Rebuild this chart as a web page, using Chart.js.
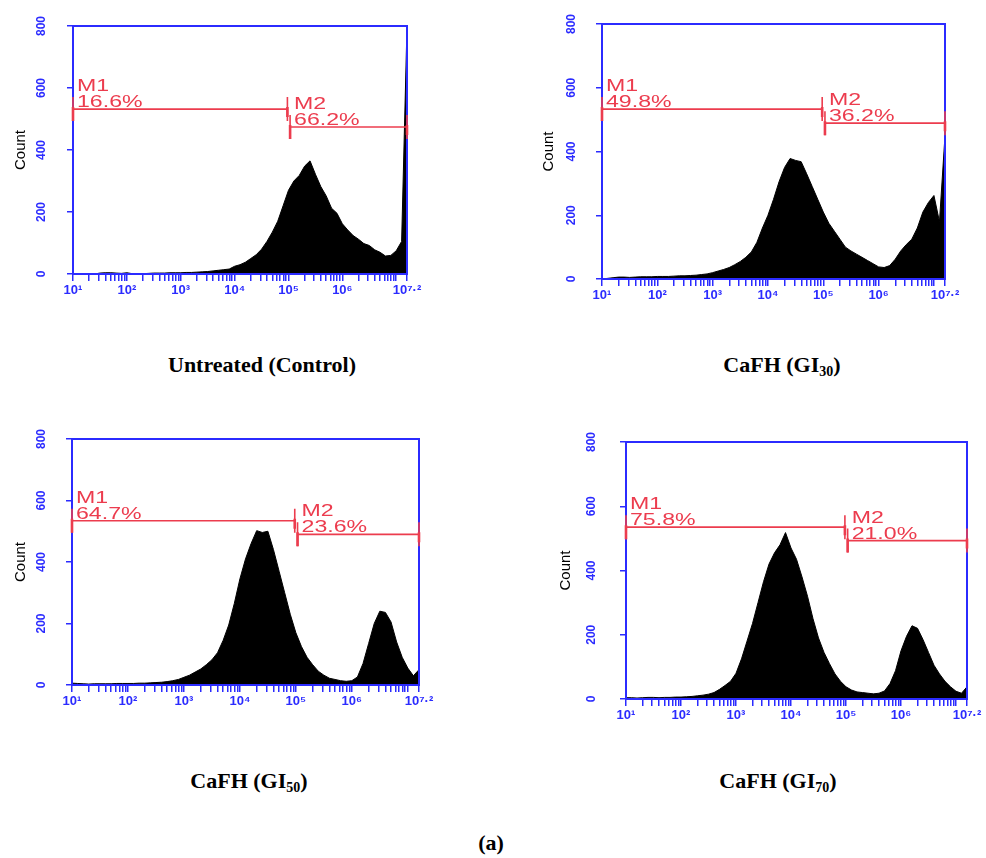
<!DOCTYPE html>
<html><head><meta charset="utf-8">
<script src="https://cdn.jsdelivr.net/npm/chart.js@4.4.1/dist/chart.umd.min.js"></script>
<style>
html,body{margin:0;padding:0;background:#fff;width:986px;height:858px;overflow:hidden;}
canvas{position:absolute;}
.cap{position:absolute;font:bold 22px "Liberation Serif","Times New Roman",serif;line-height:26px;color:#000;white-space:nowrap;transform:translateX(-50%);}
.cap sub{font-size:14px;vertical-align:-4px;line-height:0;}
</style></head><body>
<div class="cap" style="left:262px;top:352px;">Untreated (Control)</div>
<div class="cap" style="left:782px;top:352px;">CaFH (GI<sub>30</sub>)</div>
<div class="cap" style="left:249px;top:768px;">CaFH (GI<sub>50</sub>)</div>
<div class="cap" style="left:778px;top:768px;">CaFH (GI<sub>70</sub>)</div>
<div class="cap" style="left:491px;top:830px;">(a)</div>
<script>
// ---------- data ----------
// log10 fluorescence channel (bin centres), 10^1 .. 10^7.2
const binStart = 1.0, binStep = 0.1, binCount = 63;
const logBins = Array.from({length: binCount}, (_, i) => +(binStart + i * binStep).toFixed(1));

const countUntreated = [0,0,0,0,0,3,4,4,3,2, 4,1,0,1,2,3,3,3,4,4, 4,5,5,6,7,8,10,12,14,16,
  25,30,38,50,62,80,105,135,170,220, 270,300,318,348,365,322,282,252,212,196,
  162,142,124,112,98,92,78,70,58,60, 75,105,800];
const countGI30 = [0,2,4,6,6,5,6,7,7,7, 8,8,8,9,10,10,11,12,14,16, 20,25,30,36,45,55,68,85,115,160,
  200,250,305,350,378,372,368,330,290,250, 210,175,150,125,100,88,78,68,58,48,
  38,36,42,62,88,108,125,160,210,240, 262,180,450];
const countGI50 = [6,5,4,3,4,4,4,4,5,5, 5,5,6,6,7,8,9,11,14,18, 25,32,42,52,66,82,105,145,195,265,
  345,410,460,502,496,500,440,370,300,230, 170,125,90,66,45,32,22,18,14,12,
  14,26,70,135,200,240,236,205,140,90, 55,30,50];
const countGI70 = [4,4,3,4,5,5,4,5,5,6, 6,7,8,10,12,15,20,30,42,55, 80,125,180,235,300,365,420,455,480,518,
  470,435,380,320,250,190,145,110,78,55, 38,28,22,20,18,16,18,25,48,88,
  150,195,228,220,185,145,105,78,55,38, 24,18,38];

const xMajorTicks = [1, 2, 3, 4, 5, 6, 7.2];
const xTickLabels = ['10¹', '10²', '10³', '10⁴', '10⁵', '10⁶', '10⁷·²'];
const yTicks = [0, 200, 400, 600, 800];
const yTitle = 'Count';

const gateNames = ['M1', 'M2'];
const m1Range = [1.0, 4.98];
const m2Range = [5.03, 7.2];
const m1Level = [532, 533, 534, 535];
const m2Level = [474, 489, 490, 493];
const m1Pct = ['16.6%', '49.8%', '64.7%', '75.8%'];
const m2Pct = ['66.2%', '36.2%', '23.6%', '21.0%'];

const panelCounts = [countUntreated, countGI30, countGI50, countGI70];

// ---------- layout / style ----------
const boxes = [
  {L:73,  T:26,  W:334, H:248, yPad:15, tPad:14},
  {L:602, T:24,  W:343, H:255, yPad:14, tPad:13},
  {L:72,  T:439, W:347, H:246, yPad:14, tPad:15},
  {L:626, T:442, W:341, H:257, yPad:18, tPad:6}
];
const blue = '#2b2bff';
const red = 'rgb(236,60,78)';
const Y_AXIS_W = 75, X_AXIS_H = 35, PAD_TOP = 30, PAD_RIGHT = 18;

// minor ticks on the log axis
const xTickPositions = [];
for (let d = 1; d <= 6; d++) for (let k = 1; k <= 9; k++) xTickPositions.push(d + Math.log10(k));
xTickPositions.push(7, 7.2);

const framePlugin = {
  id: 'frame',
  afterDatasetsDraw(chart) {
    const {ctx, chartArea: a} = chart;
    ctx.save();
    ctx.strokeStyle = blue; ctx.lineWidth = 2;
    ctx.strokeRect(a.left, a.top, a.right - a.left, a.bottom - a.top);
    ctx.restore();
  }
};

function drawGate(ctx, xs, ys, range, level, name, pct) {
  const x1 = xs.getPixelForValue(range[0]);
  const x2 = xs.getPixelForValue(range[1]);
  const y = ys.getPixelForValue(level);
  ctx.save();
  ctx.strokeStyle = red; ctx.fillStyle = red;
  ctx.lineWidth = 1.6;
  ctx.beginPath(); ctx.moveTo(x1, y); ctx.lineTo(x2, y); ctx.stroke();
  ctx.beginPath();
  ctx.moveTo(x1, y - 12); ctx.lineTo(x1, y + 12);
  ctx.moveTo(x2, y - 12); ctx.lineTo(x2, y + 12);
  ctx.stroke();
  ctx.lineWidth = 2.6;
  ctx.beginPath();
  ctx.moveTo(x1, y - 2); ctx.lineTo(x1, y + 12);
  ctx.moveTo(x2, y - 2); ctx.lineTo(x2, y + 8);
  ctx.stroke();
  ctx.font = '17px "Liberation Sans", Arial, sans-serif';
  ctx.textBaseline = 'alphabetic';
  ctx.save(); ctx.translate(x1 + 4, y - 18); ctx.scale(1.36, 1); ctx.fillText(name, 0, 0); ctx.restore();
  ctx.save(); ctx.translate(x1 + 4, y - 2); ctx.scale(1.36, 1); ctx.fillText(pct, 0, 0); ctx.restore();
  ctx.restore();
}

function makeGatePlugin(i) {
  return {
    id: 'gates' + i,
    afterDatasetsDraw(chart) {
      const xs = chart.scales.x, ys = chart.scales.y;
      drawGate(chart.ctx, xs, ys, m1Range, m1Level[i], gateNames[0], m1Pct[i]);
      drawGate(chart.ctx, xs, ys, m2Range, m2Level[i], gateNames[1], m2Pct[i]);
    }
  };
}

boxes.forEach((b, i) => {
  const c = document.createElement('canvas');
  const w = b.W + Y_AXIS_W + PAD_RIGHT, h = b.H + PAD_TOP + X_AXIS_H;
  c.width = w; c.height = h;
  c.style.left = (b.L - Y_AXIS_W) + 'px';
  c.style.top = (b.T - PAD_TOP) + 'px';
  c.style.width = w + 'px'; c.style.height = h + 'px';
  document.body.appendChild(c);
  const vals = panelCounts[i];
  new Chart(c, {
    type: 'line',
    data: {
      datasets: [{
        data: logBins.map((x, j) => ({x: x, y: vals[j]})),
        fill: 'origin',
        backgroundColor: '#000',
        borderColor: '#000',
        borderWidth: 1,
        pointRadius: 0,
        tension: 0
      }]
    },
    options: {
      responsive: false,
      animation: false,
      devicePixelRatio: 1,
      layout: {padding: {top: PAD_TOP, right: PAD_RIGHT, left: 0, bottom: 0}},
      plugins: {legend: {display: false}, tooltip: {enabled: false}},
      scales: {
        x: {
          type: 'linear', min: 1, max: 7.2,
          afterBuildTicks(s) { s.ticks = xTickPositions.map(v => ({value: v})); },
          afterFit(s) { s.height = X_AXIS_H; },
          ticks: {
            autoSkip: false, maxRotation: 0, minRotation: 0, padding: 2,
            color: blue, font: {size: 13, weight: 'bold', family: 'Arial, "Liberation Sans", sans-serif'},
            callback(v) {
              const k = xMajorTicks.findIndex(m => Math.abs(m - v) < 1e-6);
              return k >= 0 ? xTickLabels[k] : '';
            }
          },
          grid: {drawOnChartArea: false, drawTicks: true, tickLength: 7, color: blue, lineWidth: 1.5},
          border: {color: blue, width: 2}
        },
        y: {
          min: 0, max: 800,
          afterBuildTicks(s) { s.ticks = yTicks.map(v => ({value: v})); },
          afterFit(s) { s.width = Y_AXIS_W; },
          ticks: {
            minRotation: 90, maxRotation: 90, crossAlign: 'center', padding: b.yPad,
            color: blue, font: {size: 12, weight: 'bold', family: 'Arial, "Liberation Sans", sans-serif'}
          },
          grid: {drawOnChartArea: false, drawTicks: true, tickLength: 6, color: blue, lineWidth: 1.5},
          border: {color: blue, width: 2},
          title: {
            display: true, text: yTitle, color: '#000',
            font: {size: 15, family: 'Arial, "Liberation Sans", sans-serif'},
            padding: {top: b.tPad, bottom: 0}
          }
        }
      }
    },
    plugins: [framePlugin, makeGatePlugin(i)]
  });
});
</script>
</body></html>
